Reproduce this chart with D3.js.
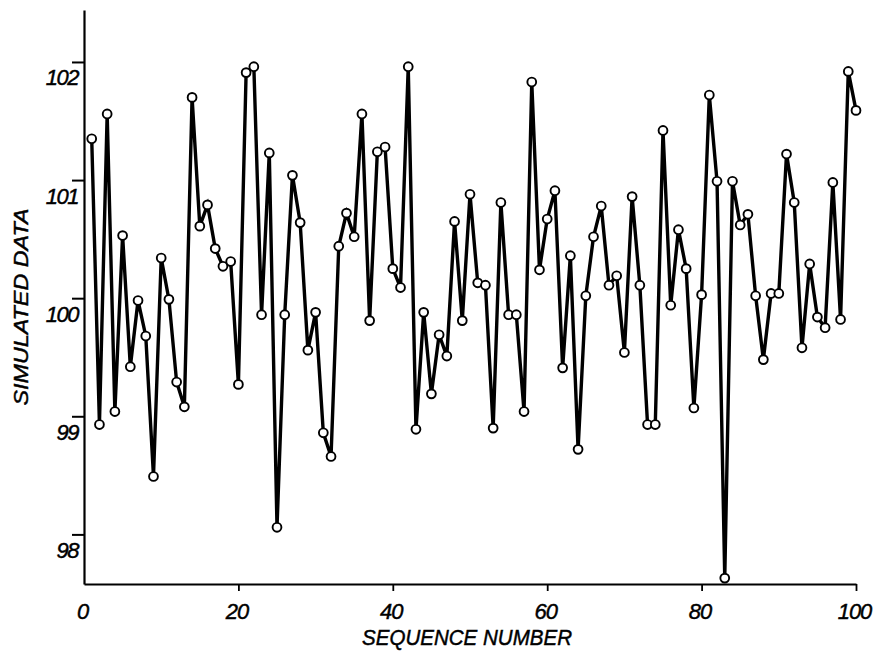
<!DOCTYPE html>
<html>
<head>
<meta charset="utf-8">
<script src="https://cdn.jsdelivr.net/npm/d3@7"></script>
<style>
  html, body { margin: 0; padding: 0; background: #fff; }
  svg { display: block; }
  .lbl { font-family: "Liberation Sans", Arial, sans-serif; font-style: italic; fill: #000; stroke: #000; stroke-width: 0.45px; }
</style>
</head>
<body>
<svg id="chart" width="874" height="654"></svg>
<script>
// Sequence numbers along the horizontal axis
const sequenceNumbers = d3.range(1, 101);

// Simulated observations, one per sequence number
const simulatedValues = [
  101.35, 98.93, 101.56, 99.04, 100.53, 99.42, 99.98, 99.68, 98.49, 100.34,
  99.99, 99.29, 99.08, 101.70, 100.61, 100.79, 100.42, 100.27, 100.31, 99.27,
  101.91, 101.96, 99.86, 101.23, 98.06, 99.86, 101.04, 100.64, 99.56, 99.88,
  98.86, 98.66, 100.44, 100.72, 100.52, 101.56, 99.81, 101.24, 101.28, 100.25,
  100.09, 101.96, 98.89, 99.88, 99.19, 99.69, 99.51, 100.65, 99.81, 100.88,
  100.13, 100.11, 98.90, 100.81, 99.86, 99.86, 99.04, 101.83, 100.24, 100.67,
  100.91, 99.41, 100.36, 98.72, 100.02, 100.52, 100.78, 100.11, 100.19, 99.54,
  100.86, 100.11, 98.93, 98.93, 101.42, 99.94, 100.58, 100.25, 99.07, 100.03,
  101.72, 100.99, 97.63, 100.99, 100.62, 100.71, 100.02, 99.48, 100.04, 100.04,
  101.22, 100.81, 99.58, 100.29, 99.84, 99.75, 100.98, 99.82, 101.92, 101.59
];

// Axis tick labels
const xTickValues = [0, 20, 40, 60, 80, 100];
const yTickValues = [98, 99, 100, 101, 102];

const xTitle = "SEQUENCE NUMBER";
const yTitle = "SIMULATED DATA";

const svg = d3.select("#chart");

const x = d3.scaleLinear().domain([0, 100]).range([84, 856]);
const y = d3.scaleLinear().domain([97.58, 102.44]).range([584, 10]);

const points = sequenceNumbers.map((s, i) => ({ s, v: simulatedValues[i] }));

// Vertical axis: line, ticks pointing left, labels set just below each tick
const yAxis = svg.append("g")
  .attr("transform", `translate(${x(0)},0)`)
  .call(d3.axisLeft(y).tickValues(yTickValues).tickSize(12).tickSizeOuter(0).tickFormat(d3.format("d")));
yAxis.select(".domain").attr("stroke", "#000").attr("stroke-width", 2.2);
yAxis.selectAll(".tick line").attr("stroke", "#000").attr("stroke-width", 2);
yAxis.selectAll(".tick text")
  .attr("class", "lbl")
  .attr("x", -6)
  .attr("y", 23)
  .attr("dy", 0)
  .attr("font-size", 22)
  .attr("letter-spacing", -1.5)
  .attr("text-anchor", "end");

// Horizontal axis: line, ticks pointing down, centred labels
const xAxis = svg.append("g")
  .attr("transform", `translate(0,${y.range()[0]})`)
  .call(d3.axisBottom(x).tickValues(xTickValues).tickSize(7).tickSizeOuter(0).tickFormat(d3.format("d")));
xAxis.select(".domain").attr("stroke", "#000").attr("stroke-width", 2.2);
xAxis.selectAll(".tick line")
  .attr("stroke", "#000").attr("stroke-width", 1.8)
  .attr("display", d => d === 0 ? "none" : null);
xAxis.selectAll(".tick text")
  .attr("class", "lbl")
  .attr("x", -2)
  .attr("y", 35)
  .attr("dy", 0)
  .attr("font-size", 22)
  .attr("letter-spacing", -1);
svg.selectAll(".tick text").attr("font-family", null).attr("fill", null);

// Axis titles
svg.append("text")
  .attr("class", "lbl")
  .attr("x", 467)
  .attr("y", 645)
  .attr("text-anchor", "middle")
  .attr("font-size", 22)
  .attr("textLength", 210)
  .attr("lengthAdjust", "spacingAndGlyphs")
  .text(xTitle);

svg.append("text")
  .attr("class", "lbl")
  .attr("transform", "translate(28,307) rotate(-90)")
  .attr("text-anchor", "middle")
  .attr("font-size", 20)
  .attr("textLength", 197)
  .attr("lengthAdjust", "spacingAndGlyphs")
  .text(yTitle);

// Connecting line through all observations
svg.append("path")
  .datum(points)
  .attr("fill", "none")
  .attr("stroke", "#000")
  .attr("stroke-width", 3.4)
  .attr("stroke-linejoin", "miter")
  .attr("d", d3.line().x(d => x(d.s)).y(d => y(d.v)));

// Open circle markers
svg.append("g")
  .selectAll("circle")
  .data(points)
  .join("circle")
  .attr("cx", d => x(d.s))
  .attr("cy", d => y(d.v))
  .attr("r", 4.4)
  .attr("fill", "#fff")
  .attr("stroke", "#000")
  .attr("stroke-width", 1.9);
</script>
</body>
</html>
